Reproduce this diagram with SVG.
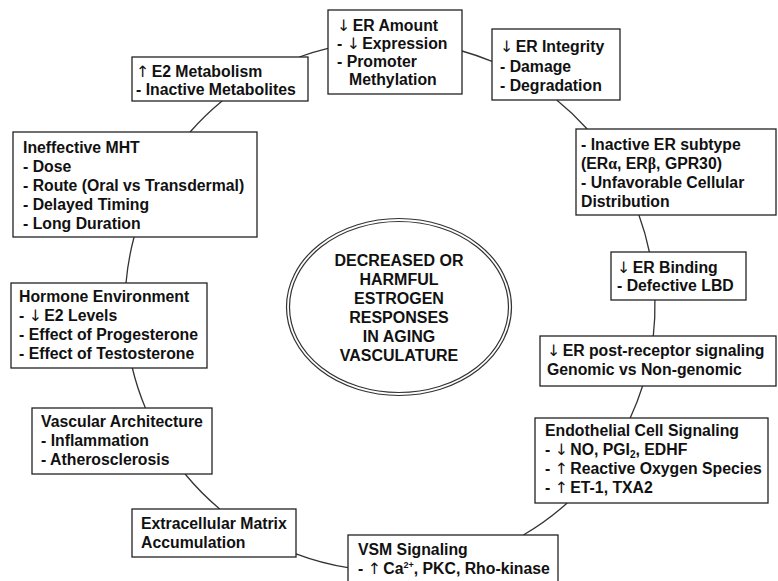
<svg xmlns="http://www.w3.org/2000/svg" width="778" height="581" viewBox="0 0 778 581">
<style>
.box{fill:#fff;stroke:#222;stroke-width:1.3}
.t{font-family:"Liberation Sans",Arial,sans-serif;font-weight:bold;font-size:15.8px;fill:#111}
.c{font-family:"Liberation Sans",Arial,sans-serif;font-weight:bold;font-size:16px;fill:#111;text-anchor:middle}
.conn{fill:none;stroke:#333;stroke-width:1.3}
.ell{fill:none;stroke:#333;stroke-width:1.2}
.gr{font-family:"Liberation Serif","Times New Roman",serif}
.ar{font-family:"DejaVu Sans",sans-serif;font-weight:normal;letter-spacing:-2px}
</style>
<rect width="778" height="581" fill="#fff"/>
<g id="connectors">
<path class="conn" d="M299.3 57 A265 265 0 0 1 328 48.4"/>
<path class="conn" d="M462 51 A265 265 0 0 1 492 61.4"/>
<path class="conn" d="M556.7 100 A265 265 0 0 1 587.2 129"/>
<path class="conn" d="M638.9 215 A265 265 0 0 1 649.4 252"/>
<path class="conn" d="M654.9 300 A265 265 0 0 1 653.3 336"/>
<path class="conn" d="M642.6 386 A265 265 0 0 1 630.2 418"/>
<path class="conn" d="M567.2 503 A265 265 0 0 1 523.4 535"/>
<path class="conn" d="M348 567.6 A265 265 0 0 1 296 553.8"/>
<path class="conn" d="M219.7 509 A265 265 0 0 1 185.1 474"/>
<path class="conn" d="M145.4 408 A265 265 0 0 1 132.2 367.5"/>
<path class="conn" d="M126 283 A265 265 0 0 1 134.1 237"/>
<path class="conn" d="M190.1 132 A265 265 0 0 1 222.1 101"/>
</g>
<g id="center">
<ellipse class="ell" cx="399" cy="307" rx="112.5" ry="88.5"/>
<ellipse class="ell" cx="399" cy="307" rx="109.5" ry="85.5"/>
<text class="c" x="399" y="266">DECREASED OR</text>
<text class="c" x="399" y="285">HARMFUL</text>
<text class="c" x="399" y="304">ESTROGEN</text>
<text class="c" x="399" y="323">RESPONSES</text>
<text class="c" x="399" y="342">IN AGING</text>
<text class="c" x="399" y="361">VASCULATURE</text>
</g>
<g id="er-amount">
<rect class="box" x="328" y="10" width="134" height="84"/>
<text class="t" x="337" y="31"><tspan class="ar">↓</tspan> ER Amount</text>
<text class="t" x="337" y="49">- <tspan class="ar">↓</tspan> Expression</text>
<text class="t" x="337" y="67">- Promoter</text>
<text class="t" x="349" y="85">Methylation</text>
</g>
<g id="er-integrity">
<rect class="box" x="492" y="29" width="128" height="71"/>
<text class="t" x="500" y="52"><tspan class="ar">↓</tspan> ER Integrity</text>
<text class="t" x="500" y="72">- Damage</text>
<text class="t" x="500" y="91">- Degradation</text>
</g>
<g id="er-subtype">
<rect class="box" x="576" y="129" width="200" height="86"/>
<text class="t" x="581" y="150">- Inactive ER subtype</text>
<text class="t" x="581" y="169">(ER<tspan class="gr">α</tspan>, ER<tspan class="gr">β</tspan>, GPR30)</text>
<text class="t" x="581" y="188">- Unfavorable Cellular</text>
<text class="t" x="581" y="207">Distribution</text>
</g>
<g id="er-binding">
<rect class="box" x="611" y="252" width="135" height="48"/>
<text class="t" x="617" y="272.5"><tspan class="ar">↓</tspan> ER Binding</text>
<text class="t" x="617" y="291">- Defective LBD</text>
</g>
<g id="er-post">
<rect class="box" x="540" y="336" width="236" height="50"/>
<text class="t" x="547" y="356"><tspan class="ar">↓</tspan> ER post-receptor signaling</text>
<text class="t" x="547" y="375">Genomic vs Non-genomic</text>
</g>
<g id="endothelial">
<rect class="box" x="535" y="418" width="233" height="85"/>
<text class="t" x="545" y="436">Endothelial Cell Signaling</text>
<text class="t" x="545" y="455">- <tspan class="ar">↓</tspan> NO, PGI<tspan font-size="10" dy="3">2</tspan><tspan dy="-3">, EDHF</tspan></text>
<text class="t" x="545" y="474">- <tspan class="ar">↑</tspan> Reactive Oxygen Species</text>
<text class="t" x="545" y="493">- <tspan class="ar">↑</tspan> ET-1, TXA2</text>
</g>
<g id="vsm">
<rect class="box" x="348" y="535" width="210" height="60"/>
<text class="t" x="358" y="555">VSM Signaling</text>
<text class="t" x="358" y="574">- <tspan class="ar">↑</tspan> Ca<tspan font-size="9" dy="-6">2+</tspan><tspan dy="6">, PKC, Rho-kinase</tspan></text>
</g>
<g id="ecm">
<rect class="box" x="132" y="509" width="164" height="48"/>
<text class="t" x="141" y="529">Extracellular Matrix</text>
<text class="t" x="141" y="548">Accumulation</text>
</g>
<g id="vascular">
<rect class="box" x="32" y="408" width="180" height="66"/>
<text class="t" x="41" y="427">Vascular Architecture</text>
<text class="t" x="41" y="446">- Inflammation</text>
<text class="t" x="41" y="465">- Atherosclerosis</text>
</g>
<g id="hormone">
<rect class="box" x="11" y="283" width="196" height="85"/>
<text class="t" x="19" y="302">Hormone Environment</text>
<text class="t" x="19" y="321">- <tspan class="ar">↓</tspan> E2 Levels</text>
<text class="t" x="19" y="340">- Effect of Progesterone</text>
<text class="t" x="19" y="359">- Effect of Testosterone</text>
</g>
<g id="mht">
<rect class="box" x="13" y="132" width="244" height="105"/>
<text class="t" x="23" y="153">Ineffective MHT</text>
<text class="t" x="23" y="172">- Dose</text>
<text class="t" x="23" y="191">- Route (Oral vs Transdermal)</text>
<text class="t" x="23" y="210">- Delayed Timing</text>
<text class="t" x="23" y="229">- Long Duration</text>
</g>
<g id="e2-metabolism">
<rect class="box" x="132" y="57" width="176" height="44"/>
<text class="t" x="136" y="77"><tspan class="ar">↑</tspan> E2 Metabolism</text>
<text class="t" x="136" y="95">- Inactive Metabolites</text>
</g>
</svg>
